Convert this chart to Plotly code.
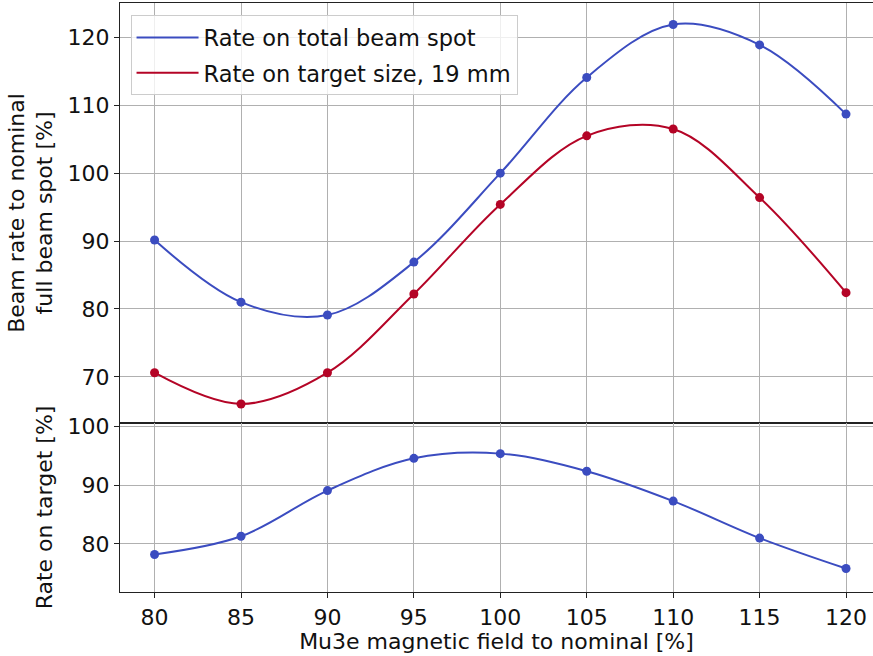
import plotly.graph_objects as go
from plotly.subplots import make_subplots

field = [80, 85, 90, 95, 100, 105, 110, 115, 120]
rate_total = [90.15, 81.0, 79.1, 86.9, 100.0, 114.1, 121.9, 118.9, 108.7]
rate_target_size = [70.6, 66.0, 70.6, 82.2, 95.4, 105.5, 106.5, 96.4, 82.4]
rate_on_target = [78.2, 81.3, 89.1, 94.6, 95.4, 92.4, 87.3, 81.0, 75.8]

BLUE = "#3b4cc0"
RED = "#b40426"
FONT = "DejaVu Sans"
FS = 22
TXT = "#111"

fig = make_subplots(rows=2, cols=1, shared_xaxes=True, vertical_spacing=0.0)

def add_series(x, y, color, name, row, legend):
    fig.add_trace(go.Scatter(x=x, y=y, mode="lines", name=name, showlegend=legend,
                             legendgroup=name,
                             line=dict(color=color, width=2, shape="spline", smoothing=1.0)),
                  row=row, col=1)
    fig.add_trace(go.Scatter(x=x, y=y, mode="markers", showlegend=False,
                             marker=dict(size=9, color=color)), row=row, col=1)

add_series(field, rate_total, BLUE, "Rate on total beam spot", 1, True)
add_series(field, rate_target_size, RED, "Rate on target size, 19 mm", 1, True)
add_series(field, rate_on_target, BLUE, "Rate on target", 2, False)

axis_common = dict(showline=True, linecolor="#222", linewidth=1.2, mirror=True,
                   showgrid=True, gridcolor="#b0b0b0", gridwidth=1,
                   ticks="outside", ticklen=5, tickcolor="#222",
                   tickfont=dict(family=FONT, size=FS, color=TXT), zeroline=False,
                   automargin=False)

fig.update_xaxes(**axis_common, range=[78.0, 121.56], tickvals=field)
fig.update_xaxes(showticklabels=False, row=1, col=1)
fig.update_xaxes(title=dict(text="Mu3e magnetic field to nominal [%]",
                            font=dict(family=FONT, size=FS, color=TXT), standoff=2),
                 row=2, col=1)

SPLIT = 0.287
fig.update_yaxes(**axis_common)
fig.update_yaxes(range=[63.2, 125.07], tickvals=[70, 80, 90, 100, 110, 120],
                 domain=[SPLIT, 1.0],
                 title=dict(text="Beam rate to nominal<br>full beam spot [%]",
                            font=dict(family=FONT, size=FS, color=TXT), standoff=8),
                 row=1, col=1)
fig.update_yaxes(range=[71.8, 100.63], tickvals=[80, 90, 100],
                 domain=[0.0, SPLIT],
                 title=dict(text="Rate on target [%]",
                            font=dict(family=FONT, size=FS, color=TXT), standoff=8),
                 row=2, col=1)

fig.update_layout(
    width=873, height=656,
    margin=dict(l=120, r=0, t=3, b=64),
    plot_bgcolor="white", paper_bgcolor="white",
    font=dict(family=FONT, size=FS, color=TXT),
    hovermode=False,
    legend=dict(x=0.014, y=0.979, xanchor="left", yanchor="top",
                bgcolor="rgba(255,255,255,0.8)", bordercolor="#cccccc", borderwidth=1,
                font=dict(family=FONT, size=22.5, color=TXT),
                itemwidth=62, tracegroupgap=3),
)

fig.write_html("out.html",
               config={"displayModeBar": False},
               post_script="document.body.style.margin='0';document.body.style.overflow='hidden';")
